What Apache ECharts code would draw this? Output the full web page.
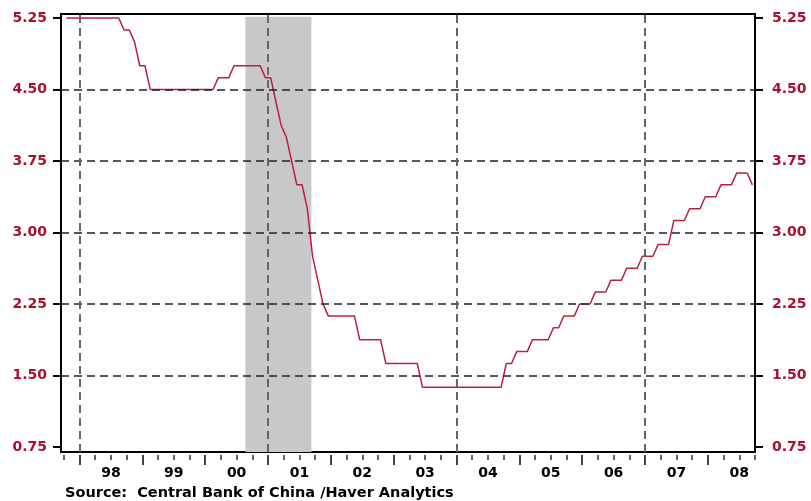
<!DOCTYPE html>
<html>
<head>
<meta charset="utf-8">
<script src="https://cdn.jsdelivr.net/npm/echarts@6/dist/echarts.min.js"></script>
<style>
    html, body { margin: 0; padding: 0; background: #fff; }
    #rate { width: 811px; height: 501px; }
</style>
</head>
<body>
<div id="rate"></div>
<script>
// discount rate, end of month, from Oct 1997 to Sep 2008
const firstYear = 1997;
const firstMonth = 10;
const rates = [
    5.25, 5.25, 5.25,                                                              // 1997 Oct-Dec
    5.25, 5.25, 5.25, 5.25, 5.25, 5.25, 5.25, 5.25, 5.125, 5.125, 5.0, 4.75,       // 1998
    4.75, 4.5, 4.5, 4.5, 4.5, 4.5, 4.5, 4.5, 4.5, 4.5, 4.5, 4.5,                   // 1999
    4.5, 4.5, 4.625, 4.625, 4.625, 4.75, 4.75, 4.75, 4.75, 4.75, 4.75, 4.625,      // 2000
    4.625, 4.375, 4.125, 4.0, 3.75, 3.5, 3.5, 3.25, 2.75, 2.5, 2.25, 2.125,        // 2001
    2.125, 2.125, 2.125, 2.125, 2.125, 1.875, 1.875, 1.875, 1.875, 1.875, 1.625, 1.625, // 2002
    1.625, 1.625, 1.625, 1.625, 1.625, 1.375, 1.375, 1.375, 1.375, 1.375, 1.375, 1.375, // 2003
    1.375, 1.375, 1.375, 1.375, 1.375, 1.375, 1.375, 1.375, 1.375, 1.625, 1.625, 1.75,  // 2004
    1.75, 1.75, 1.875, 1.875, 1.875, 1.875, 2.0, 2.0, 2.125, 2.125, 2.125, 2.25,   // 2005
    2.25, 2.25, 2.375, 2.375, 2.375, 2.5, 2.5, 2.5, 2.625, 2.625, 2.625, 2.75,     // 2006
    2.75, 2.75, 2.875, 2.875, 2.875, 3.125, 3.125, 3.125, 3.25, 3.25, 3.25, 3.375, // 2007
    3.375, 3.375, 3.5, 3.5, 3.5, 3.625, 3.625, 3.625, 3.5                          // 2008 Jan-Sep
];

const yTicks = [0.75, 1.5, 2.25, 3.0, 3.75, 4.5, 5.25];
const yDashed = [1.5, 2.25, 3.0, 3.75, 4.5];
const years = [1998, 1999, 2000, 2001, 2002, 2003, 2004, 2005, 2006, 2007, 2008];
const yearLabels = ['98', '99', '00', '01', '02', '03', '04', '05', '06', '07', '08'];
const xDashed = [1998, 2001, 2004, 2007];
const shade = [2000.64, 2001.69];

(function () {
    let chart = echarts.init(document.getElementById('rate'));

    const xMin = 1997.705, xMax = 2008.75;
    const yMin = 0.6965, yMax = 5.293;
    const font = 'DejaVu Sans';
    const red = '#A8102E';

    // month index -> decimal year (middle of month)
    let points = rates.map(function (v, i) {
        let m = firstMonth - 1 + i;
        let t = firstYear + Math.floor(m / 12) + ((m % 12) + 0.5) / 12;
        return [t, v];
    });

    let quarterTicks = [1997.75];
    years.forEach(function (y) {
        quarterTicks.push(y + 0.25, y + 0.5, y + 0.75);
    });
    let yearMids = years.map(function (y) { return y + 0.5; });

    let baseX = {
        type: 'value',
        min: xMin,
        max: xMax,
        offset: 3,
        position: 'bottom',
        axisLine: { show: false },
        splitLine: { show: false }
    };

    let yAxisCommon = function (pos, margin) {
        return {
            type: 'value',
            position: pos,
            min: yMin,
            max: yMax,
            axisLine: { show: false },
            splitLine: { show: false },
            axisTick: {
                show: true,
                length: 8,
                customValues: yTicks,
                lineStyle: { color: '#000', width: 2 }
            },
            axisLabel: {
                customValues: yTicks,
                margin: margin,
                color: red,
                fontFamily: font,
                fontWeight: 'bold',
                fontSize: 14,
                formatter: function (v) { return v.toFixed(2); }
            }
        };
    };

    let dashedLines = yDashed.map(function (v) {
        return { yAxis: v, lineStyle: { color: '#222', width: 1.5, type: [8, 5] } };
    }).concat(xDashed.map(function (v) {
        return { xAxis: v, lineStyle: { color: '#666', width: 2, type: [8, 5] } };
    }));

    option = {
        animation: false,
        backgroundColor: '#fff',
        grid: {
            left: 61,
            right: 56,
            top: 14,
            bottom: 49,
            show: true,
            borderColor: '#000',
            borderWidth: 2,
            backgroundColor: 'transparent'
        },
        xAxis: [
            Object.assign({}, baseX, {
                axisTick: {
                    show: true,
                    length: 5,
                    customValues: quarterTicks,
                    lineStyle: { color: '#333', width: 1.5 }
                },
                axisLabel: {
                    customValues: yearMids,
                    margin: 11,
                    color: '#000',
                    fontFamily: font,
                    fontWeight: 'bold',
                    fontSize: 14,
                    formatter: function (v) { return yearLabels[Math.floor(v) - years[0]]; }
                }
            }),
            Object.assign({}, baseX, {
                axisTick: {
                    show: true,
                    length: 10,
                    customValues: years,
                    lineStyle: { color: '#444', width: 2 }
                },
                axisLabel: { show: false }
            })
        ],
        yAxis: [yAxisCommon('left', 14), yAxisCommon('right', 17)],
        graphic: [{
            type: 'text',
            left: 65,
            top: 486,
            style: {
                text: 'Source:  Central Bank of China /Haver Analytics',
                fill: '#000',
                font: 'bold 14.5px "DejaVu Sans"'
            }
        }],
        series: [
            {
                // shading and dashed grid, kept under the rate line
                type: 'line',
                z: 1,
                data: points,
                showSymbol: false,
                silent: true,
                lineStyle: { opacity: 0 },
                markArea: {
                    silent: true,
                    itemStyle: { color: '#C8C8C8' },
                    data: [[{ xAxis: shade[0], yAxis: yMin }, { xAxis: shade[1], yAxis: 5.264 }]]
                },
                markLine: {
                    silent: true,
                    symbol: 'none',
                    label: { show: false },
                    data: dashedLines
                }
            },
            {
                name: 'Discount rate',
                type: 'line',
                z: 3,
                data: points,
                showSymbol: false,
                lineStyle: { color: '#BE1E3C', width: 1.5 }
            }
        ]
    };

    chart.setOption(option);
})();
</script>
</body>
</html>
